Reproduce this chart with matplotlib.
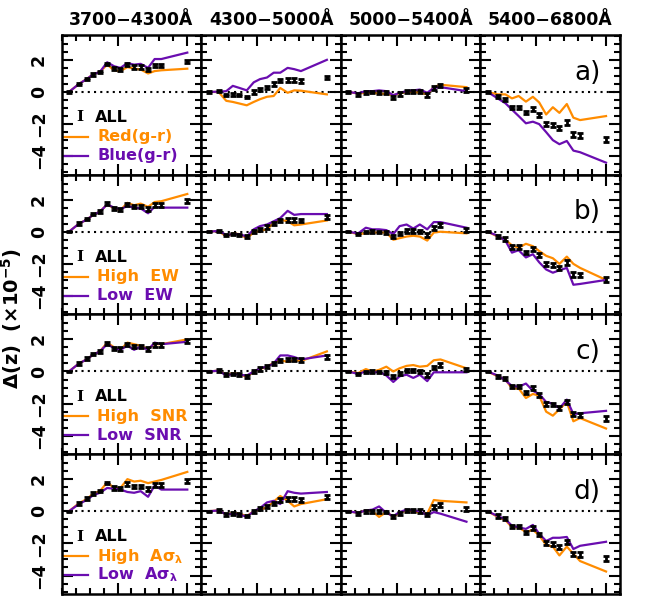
import matplotlib
matplotlib.use("Agg")
import matplotlib.pyplot as plt
from matplotlib.ticker import FixedLocator, MultipleLocator

# bin positions inside each wavelength window (last one = overall value)
x_pos = [0.52, 1.24, 1.79, 2.26, 2.74, 3.26, 3.76, 4.21, 4.71, 5.19, 5.66, 6.19, 6.66, 7.14, 9.0]
col_titles = ["3700−4300Å", "4300−5000Å", "5000−5400Å", "5400−6800Å"]
panel_tags = ["a)", "b)", "c)", "d)"]

# ALL sample, one list per wavelength window
all_vals = [
    [0, 0.5, 0.8, 1.1, 1.25, 1.75, 1.45, 1.4, 1.7, 1.55, 1.55, 1.4, 1.65, 1.65, 1.9],
    [0, 0.05, -0.2, -0.15, -0.2, -0.3, 0.0, 0.15, 0.3, 0.5, 0.7, 0.75, 0.75, 0.7, 0.9],
    [0, -0.15, -0.02, 0.0, -0.02, -0.05, -0.32, -0.12, 0.05, 0.05, 0.02, -0.2, 0.25, 0.4, 0.12],
    [0, -0.3, -0.45, -0.95, -0.95, -1.3, -1.05, -1.45, -2.0, -2.05, -2.25, -1.9, -2.65, -2.7, -2.95],
]
all_err = [
    [0.04, 0.08, 0.08, 0.08, 0.08, 0.08, 0.1, 0.1, 0.1, 0.1, 0.1, 0.12, 0.12, 0.12, 0.12],
    [0.04, 0.08, 0.08, 0.08, 0.08, 0.08, 0.1, 0.1, 0.1, 0.1, 0.1, 0.12, 0.12, 0.12, 0.12],
    [0.04, 0.08, 0.08, 0.08, 0.08, 0.08, 0.1, 0.1, 0.1, 0.1, 0.1, 0.12, 0.12, 0.12, 0.12],
    [0.04, 0.1, 0.1, 0.1, 0.1, 0.1, 0.12, 0.12, 0.12, 0.12, 0.12, 0.14, 0.14, 0.14, 0.15],
]

# a) colour split
red_gr = [
    [0, 0.5, 0.8, 1.1, 1.25, 1.7, 1.35, 1.3, 1.55, 1.45, 1.4, 1.15, 1.3, 1.35, 1.45],
    [0, 0, -0.55, -0.62, -0.72, -0.83, -0.62, -0.45, -0.3, -0.25, 0.25, -0.05, 0.1, 0.08, -0.15],
    [0, -0.1, -0.05, -0.05, -0.1, -0.12, -0.2, -0.1, 0.0, 0.0, -0.05, -0.15, 0.3, 0.45, 0.3],
    [0, -0.15, -0.15, -0.4, -0.25, -0.6, -0.3, -0.65, -1.4, -0.95, -1.3, -0.75, -1.6, -1.75, -1.5],
]
blue_gr = [
    [0, 0.5, 0.8, 1.1, 1.25, 1.85, 1.6, 1.5, 1.8, 1.7, 1.75, 1.5, 2.05, 2.05, 2.45],
    [0, 0.02, 0.05, 0.38, 0.25, 0.1, 0.6, 0.8, 0.9, 1.2, 1.2, 1.5, 1.42, 1.3, 2.0],
    [0, -0.08, 0.05, 0.05, 0.1, 0.05, -0.2, -0.05, 0.05, 0.1, 0.15, -0.05, 0.25, 0.3, 0.05],
    [0, -0.4, -0.7, -1.1, -1.5, -1.95, -1.85, -2.0, -2.5, -3.0, -3.25, -3.05, -3.65, -3.75, -4.4],
]
# b) equivalent width split
high_ew = [
    [0, 0.5, 0.75, 1.05, 1.25, 1.7, 1.45, 1.35, 1.8, 1.65, 1.75, 1.55, 1.85, 1.9, 2.35],
    [0, 0.05, -0.3, -0.1, -0.15, -0.4, -0.05, 0.05, 0.15, 0.55, 0.75, 0.65, 0.4, 0.45, 0.7],
    [0, -0.15, -0.1, -0.05, -0.05, -0.05, -0.5, -0.4, -0.3, -0.25, -0.3, -0.55, -0.05, 0.0, -0.1],
    [0, -0.3, -0.5, -0.85, -1.0, -0.75, -0.9, -1.2, -1.5, -1.65, -2.0, -1.55, -2.0, -2.25, -3.0],
]
low_ew = [
    [0, 0.5, 0.75, 1.05, 1.25, 1.7, 1.5, 1.4, 1.6, 1.5, 1.45, 1.15, 1.55, 1.5, 1.5],
    [0, 0.05, -0.2, -0.15, -0.15, -0.3, 0.15, 0.35, 0.45, 0.65, 0.85, 1.3, 1.05, 1.1, 1.1],
    [0, -0.1, 0.25, 0.15, 0.15, 0.1, -0.15, 0.35, 0.45, 0.2, 0.45, 0.15, 0.6, 0.6, 0.25],
    [0, -0.25, -0.55, -1.3, -1.15, -1.6, -1.4, -1.9, -2.35, -2.55, -2.4, -2.25, -3.3, -3.25, -3.0],
]
# c) signal-to-noise split
high_snr = [
    [0, 0.5, 0.75, 1.05, 1.25, 1.8, 1.5, 1.35, 1.8, 1.7, 1.6, 1.4, 1.7, 1.7, 2.0],
    [0, 0.05, -0.2, -0.1, -0.15, -0.35, 0.0, 0.15, 0.3, 0.55, 0.7, 0.6, 0.7, 0.65, 1.25],
    [0, -0.1, 0.15, 0.0, 0.1, 0.3, 0.0, 0.2, 0.35, 0.4, 0.3, 0.35, 0.7, 0.75, 0.2],
    [0, -0.3, -0.5, -1.05, -1.05, -1.65, -1.4, -1.5, -2.5, -2.75, -2.35, -1.9, -3.1, -2.9, -3.55],
]
low_snr = [
    [0, 0.5, 0.75, 1.05, 1.25, 1.7, 1.45, 1.35, 1.6, 1.35, 1.55, 1.35, 1.8, 1.7, 1.85],
    [0, 0.05, -0.25, -0.15, -0.2, -0.25, 0.0, 0.2, 0.3, 0.5, 1.0, 1.0, 0.9, 0.75, 1.0],
    [0, -0.15, 0.0, -0.1, 0.0, -0.25, -0.65, -0.3, -0.2, -0.4, -0.2, -0.6, -0.05, -0.05, -0.05],
    [0, -0.25, -0.55, -0.9, -0.95, -0.75, -1.2, -1.4, -1.9, -2.0, -2.3, -1.75, -2.65, -2.6, -2.45],
]
# d) A*sigma_lambda split
high_asig = [
    [0, 0.5, 0.75, 1.1, 1.25, 1.8, 1.45, 1.45, 2.0, 1.85, 1.9, 1.75, 1.85, 1.95, 2.45],
    [0, 0.05, -0.2, -0.1, -0.15, -0.3, 0.0, 0.1, 0.25, 0.6, 0.95, 0.65, 0.3, 0.45, 0.75],
    [0, -0.1, 0.05, 0.0, -0.35, -0.05, -0.35, -0.1, 0.05, 0.0, -0.1, -0.15, 0.7, 0.65, 0.55],
    [0, -0.35, -0.55, -1.0, -1.0, -1.3, -1.15, -1.5, -2.1, -2.2, -2.75, -2.2, -2.65, -3.1, -3.75],
]
low_asig = [
    [0, 0.45, 0.7, 1.0, 1.15, 1.45, 1.4, 1.35, 1.2, 1.15, 1.25, 0.9, 1.6, 1.35, 1.35],
    [0, 0.05, -0.2, -0.15, -0.2, -0.35, 0.0, 0.2, 0.55, 0.65, 0.45, 1.25, 1.15, 1.1, 1.2],
    [0, -0.1, 0.05, 0.1, 0.3, -0.1, -0.3, -0.05, 0.1, 0.05, 0.0, -0.25, -0.05, -0.15, -0.65],
    [0, -0.3, -0.5, -0.9, -1.0, -1.1, -0.85, -1.4, -1.85, -1.65, -1.65, -1.6, -2.35, -2.15, -1.9],
]

hi_rows = [red_gr, high_ew, high_snr, high_asig]
lo_rows = [blue_gr, low_ew, low_snr, low_asig]
hi_labels = ["Red(g-r)", "High  EW", "High  SNR", r"High  A$\sigma_\lambda$"]
lo_labels = ["Blue(g-r)", "Low  EW", "Low  SNR", r"Low  A$\sigma_\lambda$"]

ORANGE = "#FF8C00"
PURPLE = "#6A0DB0"

plt.rcParams["font.family"] = "DejaVu Sans"
plt.rcParams["font.weight"] = "bold"
plt.rcParams["mathtext.default"] = "regular"

fig, axes = plt.subplots(4, 4, figsize=(6.54, 6.13), dpi=100)
fig.subplots_adjust(left=0.0943, right=0.948, bottom=0.031, top=0.943, wspace=0, hspace=0)

for r in range(4):
    for c in range(4):
        ax = axes[r, c]
        ax.set_xlim(0, 10)
        ax.set_ylim(-5.15, 3.55)
        ax.axhline(0, xmin=x_pos[0] / 10, color="k", ls=(0, (1, 2)), lw=1.5, zorder=1)
        ax.plot(x_pos, hi_rows[r][c], color=ORANGE, lw=1.6, zorder=2)
        ax.plot(x_pos, lo_rows[r][c], color=PURPLE, lw=1.6, zorder=2)
        ax.errorbar(x_pos, all_vals[c], yerr=all_err[c], fmt="none", ecolor="k",
                    elinewidth=2, capsize=2.5, capthick=2, zorder=3)

        ax.xaxis.set_major_locator(FixedLocator([4, 9]))
        ax.xaxis.set_minor_locator(MultipleLocator(1))
        ax.yaxis.set_major_locator(FixedLocator([-4, -2, 0, 2]))
        ax.yaxis.set_minor_locator(MultipleLocator(0.5))
        ax.tick_params(which="both", direction="in", top=True, right=True, width=1.5)
        ax.tick_params(which="major", length=8)
        ax.tick_params(which="minor", length=4.5)
        ax.set_xticklabels([])
        for s in ax.spines.values():
            s.set_linewidth(1.8)
        if c == 0:
            ax.tick_params(axis="y", labelsize=12.5, pad=10)
            for lab in ax.get_yticklabels():
                lab.set_rotation(90)
                lab.set_va("center")
                lab.set_fontweight("bold")
            # legend drawn as text
            ax.text(0.13, 0.41, "I", transform=ax.transAxes, ha="center", va="center",
                    fontsize=11, family="DejaVu Serif", fontweight="bold", color="k")
            ax.text(0.24, 0.41, "ALL", transform=ax.transAxes, ha="left", va="center",
                    fontsize=11.5, color="k")
            ax.plot([0.0, 0.19], [0.27, 0.27], transform=ax.transAxes, color=ORANGE, lw=1.6)
            ax.text(0.255, 0.27, hi_labels[r], transform=ax.transAxes, ha="left", va="center",
                    fontsize=11.5, color=ORANGE)
            ax.plot([0.0, 0.19], [0.135, 0.135], transform=ax.transAxes, color=PURPLE, lw=1.6)
            ax.text(0.255, 0.135, lo_labels[r], transform=ax.transAxes, ha="left", va="center",
                    fontsize=11.5, color=PURPLE)
        else:
            ax.set_yticklabels([])
        if r == 0:
            ax.set_title(col_titles[c], fontsize=12.5, fontweight="bold", pad=7)
        if c == 3:
            ax.text(0.86, 0.73, panel_tags[r], transform=ax.transAxes, ha="right", va="center",
                    fontsize=19, fontweight="normal")

fig.text(0.018, 0.481, r"$\Delta$(z)  ($\times$10$^{-5}$)", rotation=90, ha="center", va="center",
         fontsize=14, fontweight="bold")

fig.savefig("out.png", dpi=100)
